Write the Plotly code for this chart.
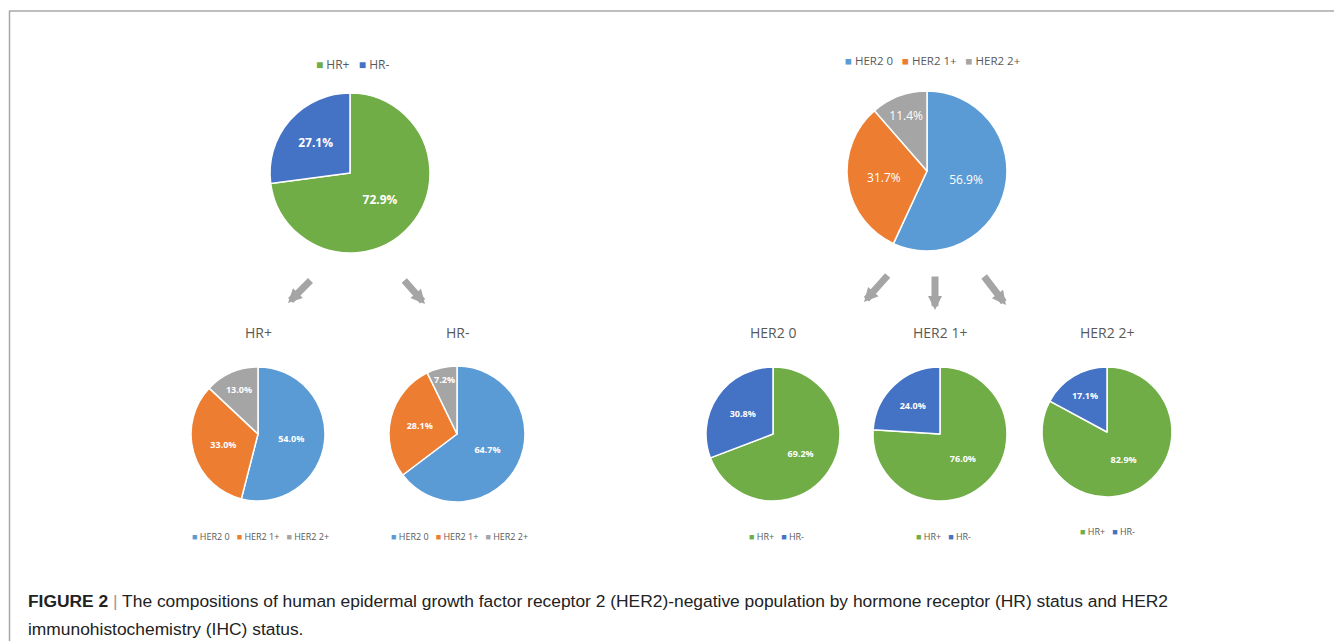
import plotly.graph_objects as go

W, H = 1342, 641
OFF = 8  # page body margin offset

# ---- data ----
hr_labels = ["HR+", "HR-"]
her2_labels = ["HER2 0", "HER2 1+", "HER2 2+"]

overall_hr = [72.9, 27.1]
overall_her2 = [56.9, 31.7, 11.4]

her2_in_hr_pos = [54.0, 33.0, 13.0]
her2_in_hr_neg = [64.7, 28.1, 7.2]

hr_in_her2_0 = [69.2, 30.8]
hr_in_her2_1 = [76.0, 24.0]
hr_in_her2_2 = [82.9, 17.1]

sub_titles = ["HR+", "HR-", "HER2 0", "HER2 1+", "HER2 2+"]

caption_bold = "FIGURE 2"
caption_lines = [
    "The compositions of human epidermal growth factor receptor 2 (HER2)-negative "
    "population by hormone receptor (HR) status and HER2",
    "immunohistochemistry (IHC) status.",
]

# ---- styles ----
hr_colors = ["#70AD47", "#4472C4"]
her2_colors = ["#5B9BD5", "#ED7D31", "#A5A5A5"]
title_color = "#595959"
FONT = "Open Sans, Noto Sans, sans-serif"
CAP_FONT = "Liberation Sans Narrow, Arial Narrow, sans-serif"

# pie layout in pixels (screen coords): (cx, cy, r)
pies = [
    dict(labels=hr_labels, values=overall_hr, colors=hr_colors, pos=(350, 173, 80), fs=12,
         leg_y=64, leg_fs=12, leg_x=352),
    dict(labels=her2_labels, values=overall_her2, colors=her2_colors, pos=(927, 171, 80), fs=12,
         leg_y=61, leg_fs=11.5, leg_x=932, bold=False),
    dict(labels=her2_labels, values=her2_in_hr_pos, colors=her2_colors, pos=(258, 434, 67), fs=9,
         leg_y=536, leg_fs=9, leg_x=260, title=sub_titles[0]),
    dict(labels=her2_labels, values=her2_in_hr_neg, colors=her2_colors, pos=(457, 434, 68), fs=9,
         leg_y=536, leg_fs=9, leg_x=459, title=sub_titles[1]),
    dict(labels=hr_labels, values=hr_in_her2_0, colors=hr_colors, pos=(773, 434, 67), fs=9,
         leg_y=536, leg_fs=9, leg_x=776, title=sub_titles[2]),
    dict(labels=hr_labels, values=hr_in_her2_1, colors=hr_colors, pos=(940, 434, 67), fs=9,
         leg_y=536, leg_fs=9, leg_x=943, title=sub_titles[3]),
    dict(labels=hr_labels, values=hr_in_her2_2, colors=hr_colors, pos=(1107, 432, 65), fs=9,
         leg_y=531, leg_fs=9, leg_x=1107, title=sub_titles[4]),
]

def px_x(x):
    return (x - OFF) / W

def px_y(y):
    return 1 - (y - OFF) / H

fig = go.Figure()
annotations = []

for p in pies:
    cx, cy, r = p["pos"]
    bold = p.get("bold", True)
    fig.add_trace(go.Pie(
        labels=p["labels"], values=p["values"], sort=False, direction="clockwise", rotation=0,
        marker=dict(colors=p["colors"], line=dict(color="white", width=1.5)),
        texttemplate="%{value:.1f}%", textposition="inside", insidetextorientation="horizontal",
        textfont=dict(color="white", size=p["fs"], family=FONT, weight="bold" if bold else "normal"),
        domain=dict(x=[px_x(cx - r), px_x(cx + r)], y=[px_y(cy + r), px_y(cy - r)]),
        showlegend=False, hoverinfo="label+percent",
    ))
    # legend drawn as text with coloured squares
    parts = []
    for lab, col in zip(p["labels"], p["colors"]):
        parts.append(f"<span style='color:{col}'>■</span> {lab}")
    annotations.append(dict(
        text="   ".join(parts), x=px_x(p["leg_x"]), y=px_y(p["leg_y"]), xref="paper", yref="paper",
        showarrow=False, xanchor="center", yanchor="middle",
        font=dict(size=p["leg_fs"], color=title_color, family=FONT)))
    if "title" in p:
        annotations.append(dict(
            text=p["title"], x=px_x(cx), y=px_y(332), xref="paper", yref="paper",
            showarrow=False, xanchor="center", yanchor="middle",
            font=dict(size=14, color=title_color, family=FONT)))

# arrows (tip x, tip y, tail x, tail y) in screen pixels
arrows = [(288, 303, 312, 279), (425, 304, 403, 279),
          (864, 302, 889, 274), (935, 310, 935, 275), (1006, 305, 983, 275)]
for tx, ty, sx, sy in arrows:
    annotations.append(dict(
        x=px_x(tx), y=px_y(ty), xref="paper", yref="paper", text="",
        showarrow=True, ax=sx - tx, ay=sy - ty, axref="pixel", ayref="pixel",
        arrowhead=2, arrowsize=0.4, arrowwidth=7, arrowcolor="#A5A5A5", standoff=0))

# caption (two lines, spaced like the original)
cap_texts = [f"<b>{caption_bold}</b> <span style='color:#9a9a9a'>|</span> {caption_lines[0]}",
             caption_lines[1]]
for i, t in enumerate(cap_texts):
    annotations.append(dict(
        text=t, x=px_x(26), y=px_y(601 + 28 * i), xref="paper", yref="paper", showarrow=False,
        xanchor="left", yanchor="middle", align="left",
        font=dict(size=17.4, color="#222222", family=CAP_FONT)))

shapes = [
    dict(type="line", xref="paper", yref="paper", x0=px_x(9), x1=1, y0=px_y(11), y1=px_y(11),
         line=dict(color="#A8A8A8", width=1.5)),
    dict(type="line", xref="paper", yref="paper", x0=px_x(9.5), x1=px_x(9.5), y0=px_y(11), y1=0,
         line=dict(color="#A8A8A8", width=1.5)),
]

fig.update_layout(
    width=W, height=H, margin=dict(l=0, r=0, t=0, b=0),
    paper_bgcolor="white", plot_bgcolor="white",
    annotations=annotations, shapes=shapes, showlegend=False,
)

fig.write_html("out.html")
